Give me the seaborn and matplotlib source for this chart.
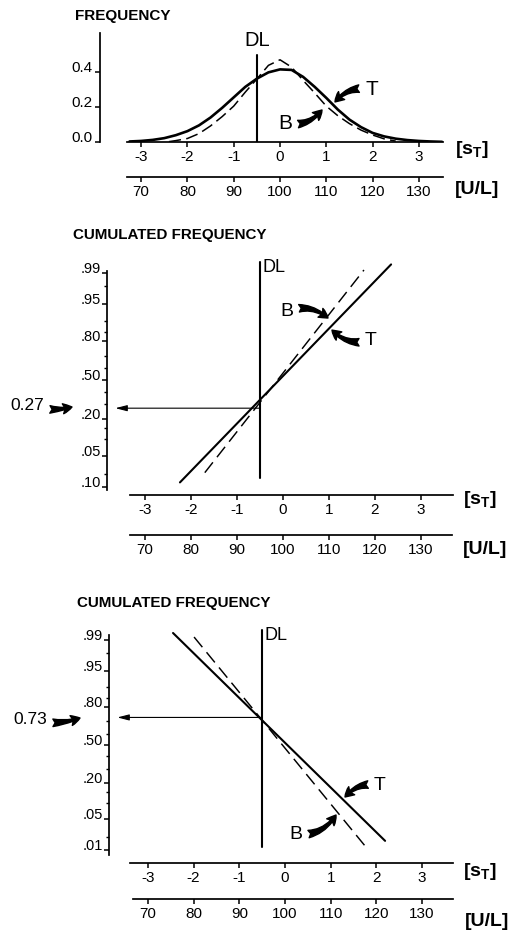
import numpy as np
import pandas as pd
import matplotlib
matplotlib.use("Agg")
import matplotlib.pyplot as plt
import seaborn as sns
from statistics import NormalDist

# ------------------------------------------------------------------ data
# panel 1: frequency curves
pdf_s_T = [-3.25, -3.0, -2.75, -2.5, -2.25, -2.0, -1.75, -1.5, -1.25, -1.0,
           -0.75, -0.5, -0.25, 0.0, 0.25, 0.5, 0.75, 1.0, 1.25, 1.5,
           1.75, 2.0, 2.25, 2.5, 2.75, 3.0, 3.25, 3.5]
pdf_T = [0.003, 0.006, 0.012, 0.022, 0.039, 0.062, 0.095, 0.140, 0.195, 0.255,
         0.315, 0.362, 0.398, 0.415, 0.412, 0.372, 0.315, 0.252, 0.185, 0.128,
         0.085, 0.052, 0.032, 0.019, 0.011, 0.006, 0.003, 0.001]
pdf_s_B = [-2.4, -2.25, -2.0, -1.75, -1.5, -1.25, -1.0, -0.75, -0.5, -0.25,
           0.0, 0.25, 0.5, 0.75, 1.0, 1.25, 1.5, 1.75, 2.0, 2.25, 2.5]
pdf_B = [0.002, 0.008, 0.020, 0.048, 0.092, 0.145, 0.205, 0.285, 0.360, 0.438,
         0.470, 0.428, 0.352, 0.280, 0.205, 0.150, 0.105, 0.068, 0.040, 0.018, 0.005]

# panel 2: cumulated frequency, lines on probability paper
cum2_s_T = [-2.24, 2.35]
cum2_p_T = [0.013, 0.994]
cum2_s_B = [-1.70, 1.76]
cum2_p_B = [0.022, 0.9916]
cum2_read = 0.27

# panel 3
cum3_s_T = [-2.45, 2.19]
cum3_p_T = [0.9936, 0.0166]
cum3_s_B = [-1.99, 1.75]
cum3_p_B = [0.9918, 0.0125]
cum3_read = 0.73

dl_s = -0.5
dl1_top = 0.497
dl2_p = [0.0166, 0.9948]
dl3_p = [0.0117, 0.9947]

s_ticks = [-3, -2, -1, 0, 1, 2, 3]
s_ticklabels = ["-3", "-2", "-1", "0", "1", "2", "3"]
ul_ticks = [70, 80, 90, 100, 110, 120, 130]
ul_ticklabels = ["70", "80", "90", "100", "110", "120", "130"]
freq_ticks = [0.0, 0.2, 0.4]
freq_ticklabels = ["0.0", "0.2", "0.4"]
prob_ticks = [0.01, 0.05, 0.20, 0.50, 0.80, 0.95, 0.99]
prob_labels_2 = [".10", ".05", ".20", ".50", ".80", ".95", ".99"]
prob_labels_3 = [".01", ".05", ".20", ".50", ".80", ".95", ".99"]
prob_minor = [0.02, 0.10, 0.15, 0.30, 0.40, 0.60, 0.70, 0.85, 0.90, 0.98]

# ------------------------------------------------------------------ style
sns.set_style("ticks")
FONT = ["Liberation Sans", "DejaVu Sans"]
plt.rcParams["font.family"] = FONT
plt.rcParams["axes.unicode_minus"] = False
plt.rcParams["axes.edgecolor"] = "black"
plt.rcParams["xtick.color"] = "black"
plt.rcParams["ytick.color"] = "black"
plt.rcParams["text.color"] = "black"

W, H = 513, 936
fig = plt.figure(figsize=(W / 100, H / 100), dpi=100)
fig.patch.set_facecolor("white")


def box(x0, y0, x1, y1):
    return [x0 / W, 1 - y1 / H, (x1 - x0) / W, (y1 - y0) / H]


def ftext(x, y, s, **kw):
    fig.text(x / W, 1 - y / H, s, **kw)


_nd = NormalDist()


def probit(p):
    p = np.clip(np.asarray(p, dtype=float), 1e-9, 1 - 1e-9)
    return np.vectorize(_nd.inv_cdf, otypes=[float])(p)


def inv_probit(z):
    return np.vectorize(_nd.cdf, otypes=[float])(np.asarray(z, dtype=float))


def s2u(s):
    return 100 + 10 * np.asarray(s)


def u2s(u):
    return (np.asarray(u) - 100) / 10


SPW = 1.25
TICKKW = dict(direction="out", length=3.6, width=1.1, colors="black")
XLS = 11


def style_axes(ax, xlim, s_bounds, ul_bounds, ul_loc, ypad, yls):
    ax.set_xlim(*xlim)
    ax.set_facecolor("none")
    ax.spines["top"].set_visible(False)
    ax.spines["right"].set_visible(False)
    for sp in ("left", "bottom"):
        ax.spines[sp].set_linewidth(SPW)
    ax.spines["bottom"].set_bounds(*s_bounds)
    ax.set_xticks(s_ticks, labels=s_ticklabels)
    ax.tick_params(axis="x", pad=2.5, labelsize=XLS, **TICKKW)
    ax.tick_params(axis="y", pad=ypad, labelsize=yls, **TICKKW)
    ax.set_xlabel("")
    ax.set_ylabel("")
    sec = ax.secondary_xaxis(ul_loc, functions=(s2u, u2s))
    sec.set_xticks(ul_ticks, labels=ul_ticklabels)
    sec.tick_params(axis="x", pad=2.5, labelsize=XLS, **TICKKW)
    sec.spines["bottom"].set_linewidth(SPW)
    sec.spines["bottom"].set_bounds(*ul_bounds)
    return sec


fat = dict(arrowstyle="fancy,head_length=0.55,head_width=0.6,tail_width=0.45",
           fc="black", ec="black", mutation_scale=12, shrinkA=2, shrinkB=0)


def fat_arrow(ax, label, tip, txt, rad, size=15, coords="data"):
    ax.annotate(label, xy=tip, xytext=txt, xycoords=coords, textcoords=coords,
                ha="center", va="center", fontsize=size,
                arrowprops=dict(**fat, connectionstyle=f"arc3,rad={rad}"))


# ------------------------------------------------------------------ panel 1
ax1 = fig.add_axes(box(100, 33, 450, 142))
sns.lineplot(x=pdf_s_T, y=pdf_T, ax=ax1, color="black", linewidth=1.9,
             estimator=None, sort=False)
sns.lineplot(x=pdf_s_B, y=pdf_B, ax=ax1, color="black", linewidth=1.1,
             linestyle=(0, (8, 3.5)), estimator=None, sort=False)
ax1.set_ylim(0, 0.623)
style_axes(ax1, (-3.888, 3.672), (-3.30, 3.52), (67.0, 135.2), -35 / 109, 1.5, 11)
ax1.spines["left"].set_bounds(0, 0.623)
ax1.set_yticks(freq_ticks, labels=freq_ticklabels, va="baseline")
ax1.plot([dl_s, dl_s], [0, dl1_top], color="black", lw=1.5)
ax1.text(dl_s, dl1_top + 0.03, "DL", ha="center", va="bottom", fontsize=14.5)
fat_arrow(ax1, "B", (0.907, 0.183), (0.108, 0.106), 0.3)
fat_arrow(ax1, "T", (1.188, 0.229), (1.976, 0.30), 0.3)
ftext(75, 16, "FREQUENCY", ha="left", va="center", fontsize=11, fontweight="bold")
ftext(455, 150, r"[s$_\mathregular{T}$]", ha="left", va="center", fontsize=14, fontweight="bold")
ftext(455, 190, "[U/L]", ha="left", va="center", fontsize=14, fontweight="bold")

# ------------------------------------------------------------------ panels 2/3


def prob_panel(rect, xlim, zlim, ybounds, s_bounds, ul_loc, sT, pT, sB, pB,
               dlp, readp, labels):
    ax = fig.add_axes(box(*rect))
    ax.set_yscale("function", functions=(probit, inv_probit))
    sns.lineplot(x=sT, y=pT, ax=ax, color="black", linewidth=1.5,
                 estimator=None, sort=False)
    sns.lineplot(x=sB, y=pB, ax=ax, color="black", linewidth=1.05,
                 linestyle=(0, (9, 4.5)), estimator=None, sort=False)
    ax.set_ylim(inv_probit(zlim[0]), inv_probit(zlim[1]))
    style_axes(ax, xlim, s_bounds, (66.8, 136.8), ul_loc, 1.0, 10.5)
    ax.spines["left"].set_bounds(*ybounds)
    ax.set_yticks(prob_ticks, labels=labels, va="baseline")
    ax.set_yticks(prob_minor, minor=True)
    ax.tick_params(axis="y", which="minor", direction="out", length=2.5, width=1.0)
    ax.plot([dl_s, dl_s], dlp, color="black", lw=1.5)
    ax.annotate("DL", xy=(dl_s, dlp[1]), xytext=(2, 2), textcoords="offset points",
                ha="left", va="top", fontsize=13)
    ax.annotate("", xy=(0, readp), xycoords=("axes fraction", "data"),
                xytext=(dl_s, readp), textcoords="data",
                arrowprops=dict(arrowstyle="-|>,head_length=0.7,head_width=0.18",
                                color="black", lw=0.8, shrinkA=0, shrinkB=6))
    return ax


ax2 = prob_panel((107, 255, 460, 495), (-3.826, 3.848), (-2.5, 2.717),
                 (0.0084, 0.9910), (-3.326, 3.696), -40 / 240,
                 cum2_s_T, cum2_p_T, cum2_s_B, cum2_p_B, dl2_p, cum2_read,
                 prob_labels_2)
fat_arrow(ax2, "B", (0.978, 0.911), (0.076, 0.9318), -0.3, size=14)
fat_arrow(ax2, "T", (1.065, 0.861), (1.913, 0.805), -0.3, size=14)
ftext(73, 235, "CUMULATED FREQUENCY", ha="left", va="center", fontsize=10.9, fontweight="bold")
ftext(463, 499, r"[s$_\mathregular{T}$]", ha="left", va="center", fontsize=14, fontweight="bold")
ftext(463, 549, "[U/L]", ha="left", va="center", fontsize=14, fontweight="bold")
fat_arrow(ax2, "0.27", (72, 936 - 407), (27, 936 - 405), 0.15, size=12.5,
          coords="figure pixels")

ax3 = prob_panel((109, 625, 460, 863), (-3.851, 3.829), (-2.622, 2.667),
                 (0.0073, 0.9927), (-3.39, 3.68), -36 / 238,
                 cum3_s_T, cum3_p_T, cum3_s_B, cum3_p_B, dl3_p, cum3_read,
                 prob_labels_3)
fat_arrow(ax3, "T", (1.313, 0.124), (2.079, 0.184), 0.3, size=14)
fat_arrow(ax3, "B", (1.116, 0.0599), (0.241, 0.0234), 0.3, size=14)
ftext(77, 603, "CUMULATED FREQUENCY", ha="left", va="center", fontsize=10.9, fontweight="bold")
ftext(463, 872, r"[s$_\mathregular{T}$]", ha="left", va="center", fontsize=14, fontweight="bold")
ftext(465, 922, "[U/L]", ha="left", va="center", fontsize=14, fontweight="bold")
fat_arrow(ax3, "0.73", (80, 936 - 718), (30, 936 - 720), 0.15, size=12.5,
          coords="figure pixels")

fig.savefig("out.png", dpi=100, facecolor="white")
